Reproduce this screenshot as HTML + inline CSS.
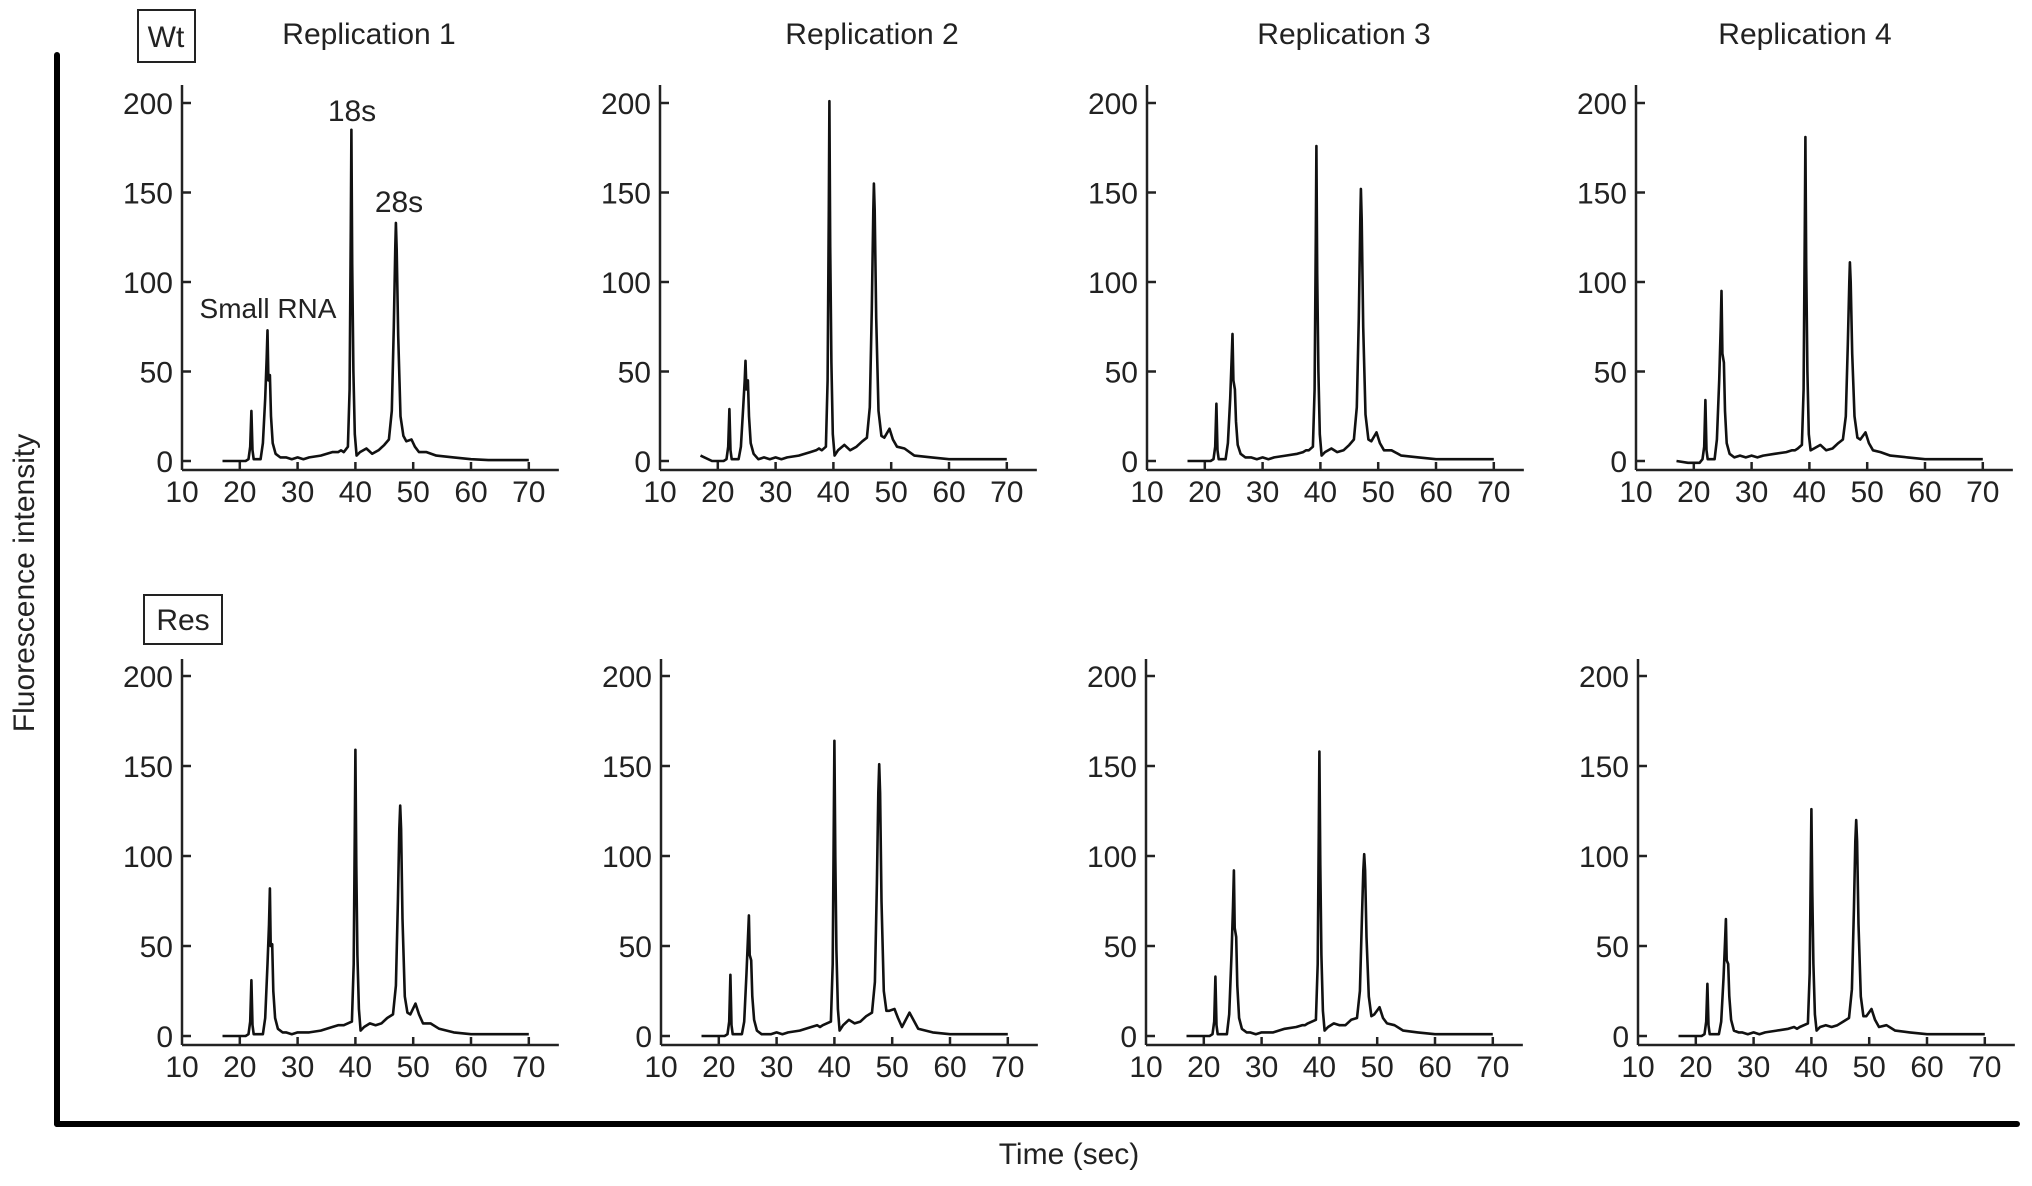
<!DOCTYPE html>
<html><head><meta charset="utf-8"><style>
html,body{margin:0;padding:0;background:#fff;}
svg{display:block;font-family:"Liberation Sans",Arial,sans-serif;}
</style></head><body>
<svg id="fig" width="2032" height="1186" viewBox="0 0 2032 1186">
<rect x="0" y="0" width="2032" height="1186" fill="#fff"/>
<line x1="57" y1="55" x2="57" y2="1124" stroke="#000" stroke-width="6" stroke-linecap="round"/>
<line x1="57" y1="1124" x2="2017" y2="1124" stroke="#000" stroke-width="6" stroke-linecap="round"/>
<text x="34" y="583" font-size="30" fill="#222" text-anchor="middle" transform="rotate(-90 34 583)">Fluorescence intensity</text>
<text x="1069" y="1164" font-size="30" fill="#222" text-anchor="middle">Time (sec)</text>
<rect x="138" y="10" width="57" height="52" fill="none" stroke="#222" stroke-width="2"/>
<text x="166" y="47" font-size="30" fill="#222" text-anchor="middle">Wt</text>
<rect x="144" y="595" width="78" height="49" fill="none" stroke="#222" stroke-width="2"/>
<text x="183" y="630" font-size="30" fill="#222" text-anchor="middle">Res</text>
<text x="369" y="44" font-size="30" fill="#222" text-anchor="middle">Replication 1</text>
<text x="872" y="44" font-size="30" fill="#222" text-anchor="middle">Replication 2</text>
<text x="1344" y="44" font-size="30" fill="#222" text-anchor="middle">Replication 3</text>
<text x="1805" y="44" font-size="30" fill="#222" text-anchor="middle">Replication 4</text>
<text x="352" y="121" font-size="30" fill="#222" text-anchor="middle">18s</text>
<text x="399" y="212" font-size="30" fill="#222" text-anchor="middle">28s</text>
<text x="268" y="318" font-size="28" fill="#222" text-anchor="middle">Small RNA</text>
<g id="panels"></g>
</svg>
<script>
const yTicks = [0, 50, 100, 150, 200];
const xTicks = [10, 20, 30, 40, 50, 60, 70];
const timesTop = [17,19,21,21.5,21.8,22.0,22.2,22.4,23.6,24.0,24.4,24.65,24.8,24.95,25.2,25.4,25.7,26.2,27,28,29,30,31,32,34,36,37,37.5,38,38.7,39.0,39.2,39.3,39.45,39.65,39.9,40.2,40.8,41.9,42.9,44,45,45.8,46.3,46.65,46.9,47.0,47.15,47.4,47.8,48.3,48.8,49.7,50.3,51,52.3,54,57,60,63,70];
const timesBottom = [17,19,21,21.5,21.8,22.0,22.2,22.4,24.0,24.4,24.8,25.05,25.2,25.35,25.6,25.8,26.1,26.6,27.4,28,29,30,31,32,34,36,37,37.5,38,39.4,39.7,39.9,40.0,40.15,40.35,40.6,40.9,41.5,42.5,43.5,44.5,45.5,46.5,47.0,47.35,47.6,47.75,47.9,48.15,48.55,49.0,49.5,50.4,51,51.7,53,54.5,57,60,63,70];
const wtRep1 = [0,0,0,1,8,28,6,1,1,10,35,58,73,45,48,25,10,4,2,2,1,2,1,2,3,5,5,6,5,8,40,130,185,110,50,15,3,5,7,4,6,9,12,28,75,120,133,118,70,25,14,11,12,8,5,5,3,2,1,0.5,0.5];
const wtRep2 = [3,0,0,1,8,29,6,1,1,8,30,45,56,40,45,25,10,4,1,2,1,2,1,2,3,5,6,7,6,8,45,140,201,120,55,15,3,6,9,6,8,11,13,30,85,140,155,140,80,28,14,13,18,12,8,7,3,2,1,1,1];
const wtRep3 = [0,0,0,1,8,32,6,1,1,10,35,58,71,45,40,22,9,4,2,2,1,2,1,2,3,4,5,6,6,8,40,125,176,105,50,15,3,5,7,5,6,9,12,30,80,135,152,135,75,26,12,11,16,10,6,6,3,2,1,1,1];
const wtRep4 = [0,-1,-1,1,8,34,6,1,1,12,45,75,95,60,55,28,10,4,2,3,2,3,2,3,4,5,6,6,7,9,40,130,181,110,50,15,6,7,9,6,7,10,12,25,65,100,111,100,60,25,13,12,16,10,6,5,3,2,1,1,1];
const resRep1 = [0,0,0,1,8,31,6,1,1,10,40,62,82,50,51,25,10,4,2,2,1,2,2,2,3,5,6,6,6,8,40,115,159,95,45,15,3,5,7,6,7,10,12,28,75,115,128,115,65,22,13,12,18,12,7,7,4,2,1,1,1];
const resRep2 = [0,0,0,1,8,34,6,1,1,8,35,55,67,45,42,22,9,3,1,1,1,2,1,2,3,5,6,5,6,8,40,120,164,100,48,15,3,6,9,7,8,11,13,30,85,135,151,135,75,25,14,14,15,10,5,13,4,2,1,1,1];
const resRep3 = [0,0,0,1,8,33,6,1,1,12,45,72,92,60,55,28,10,4,2,2,1,2,2,2,4,5,6,6,7,9,40,115,158,95,45,14,3,5,7,6,6,9,10,25,65,92,101,92,55,22,11,12,16,10,7,6,3,2,1,1,1];
const resRep4 = [0,0,0,1,8,29,6,1,1,8,32,52,65,42,40,22,9,3,2,2,1,2,1,2,3,4,5,4,5,7,35,95,126,80,40,12,3,5,6,5,6,8,10,26,70,108,120,108,62,22,11,11,15,9,5,6,3,2,1,1,1];

const NS = 'http://www.w3.org/2000/svg';
const root = document.getElementById('panels');
function mk(tag, attrs, parent) {
  const e = document.createElementNS(NS, tag);
  for (const k in attrs) e.setAttribute(k, attrs[k]);
  parent.appendChild(e);
  return e;
}
const rows = [
  {zeroY: 461, perY: 1.79, axisY: 470, topY: 85, times: timesTop, x0s: [182, 660, 1147, 1636], series: [wtRep1, wtRep2, wtRep3, wtRep4], name: 'wt'},
  {zeroY: 1036, perY: 1.8, axisY: 1045, topY: 659, times: timesBottom, x0s: [182, 661, 1146, 1638], series: [resRep1, resRep2, resRep3, resRep4], name: 'res'}
];
const perX = 5.78;
rows.forEach(row => {
  row.x0s.forEach((x0, pi) => {
    const g = mk('g', {}, root);
    
    
    const sx = t => x0 + (t - 10) * perX;
    const sy = v => row.zeroY - v * row.perY;
    const ya = mk('line', {x1: x0, y1: row.topY, x2: x0, y2: row.axisY, stroke: '#222', 'stroke-width': 2.5}, g);
    
    
    const xa = mk('line', {x1: x0, y1: row.axisY, x2: sx(75.2), y2: row.axisY, stroke: '#222', 'stroke-width': 2.5}, g);
    
    
    yTicks.forEach(v => {
      const tk = mk('line', {x1: x0, y1: sy(v), x2: x0 + 9, y2: sy(v), stroke: '#222', 'stroke-width': 2.5}, g);
      
      
      const lb = mk('text', {x: x0 - 9, y: sy(v) + 11, 'font-size': 30, fill: '#222', 'text-anchor': 'end'}, g);
      lb.textContent = String(v);
      
      
    });
    xTicks.forEach(t => {
      if (t > 10) {
        const tk = mk('line', {x1: sx(t), y1: row.axisY, x2: sx(t), y2: row.axisY - 8, stroke: '#222', 'stroke-width': 2.5}, g);
        
        
      }
      const lb = mk('text', {x: sx(t), y: row.axisY + 32, 'font-size': 30, fill: '#222', 'text-anchor': 'middle'}, g);
      lb.textContent = String(t);
      
      
    });
    const vals = row.series[pi];
    let d = '';
    row.times.forEach((t, i) => { d += (i ? 'L' : 'M') + sx(t).toFixed(1) + ' ' + sy(vals[i]).toFixed(1); });
    const p = mk('path', {d: d, fill: 'none', stroke: '#111', 'stroke-width': 2.6, 'stroke-linejoin': 'round'}, g);
    
    
  });
});
</script>
</body></html>
